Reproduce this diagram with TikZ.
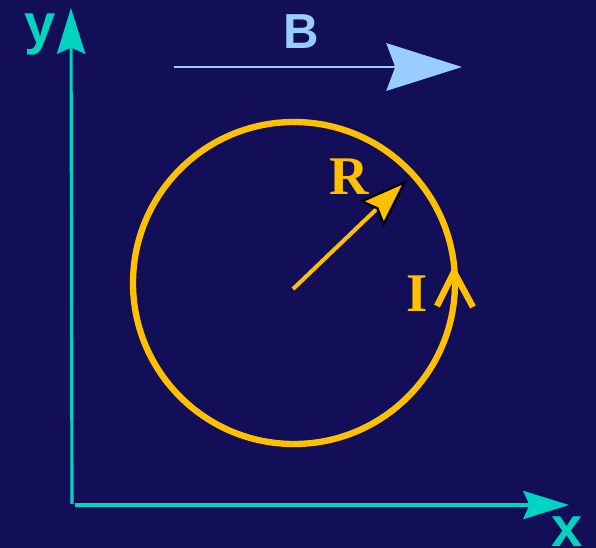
\documentclass[tikz,border=0pt]{standalone}
\usepackage{fontspec}
\setmainfont{Liberation Serif}
\setsansfont{Liberation Sans}
\usetikzlibrary{arrows.meta}

\definecolor{bgnavy}{RGB}{19,14,88}
\definecolor{axisteal}{RGB}{0,212,192}
\definecolor{fieldblue}{RGB}{153,204,255}
\definecolor{loopgold}{RGB}{255,192,0}

\tikzset{
  axis/.style={axisteal,line width=1.8pt,
    -{Stealth[length=26pt,width=16pt,inset=3.5pt]}},
  axislabel/.style={axisteal,font=\sffamily\bfseries\fontsize{32}{34}\selectfont},
  looplabel/.style={loopgold,font=\rmfamily\bfseries\fontsize{31}{33}\selectfont}
}

\begin{document}
\begin{tikzpicture}[x=0.02cm,y=-0.02cm]

% Background
\fill[bgnavy] (0,0) rectangle (596,548);
\useasboundingbox (0,0) rectangle (596,548);

% Axes
\coordinate (yfoot) at (72,504);
\coordinate (ytip) at (71,8);
\coordinate (xfoot) at (75,505);
\coordinate (xtip) at (569,505);
\draw[axis] (yfoot) -- (ytip);
\draw[axis] (xfoot) -- (xtip);

% Axis labels
\node[axislabel] (ylab) at (40,34) {y};
\node[axislabel] (xlab) at (567,532) {x};

% Field B
\coordinate (Bstart) at (174,67);
\coordinate (Bend) at (462,67);
\draw[fieldblue,line width=1.7pt,
  -{Stealth[length=43pt,width=27pt,inset=5pt]}] (Bstart) -- (Bend);
\node[fieldblue,font=\sffamily\bfseries\fontsize{28}{30}\selectfont]
  (Blab) at (301,32) {B};

% Current loop
\coordinate (centre) at (294,283);
\draw[loopgold,line width=3.6pt] (centre) circle (161);

% Radius R
\coordinate (rim) at (407,180);
\draw[loopgold,line width=2.3pt,
  -{Stealth[length=28pt,width=20pt,inset=4pt,color=black,fill=loopgold,line width=1.3pt]}]
  (293,289) -- (rim);
\node[looplabel] (Rlab) at (349,177) {R};

% Current direction
\coordinate (Itip) at (454,272);
\draw[loopgold,line width=3.6pt,line join=miter]
  (437,306) -- (Itip) -- (473,307);
\node[looplabel] (Ilab) at (417,294) {I};

\end{tikzpicture}
\end{document}
